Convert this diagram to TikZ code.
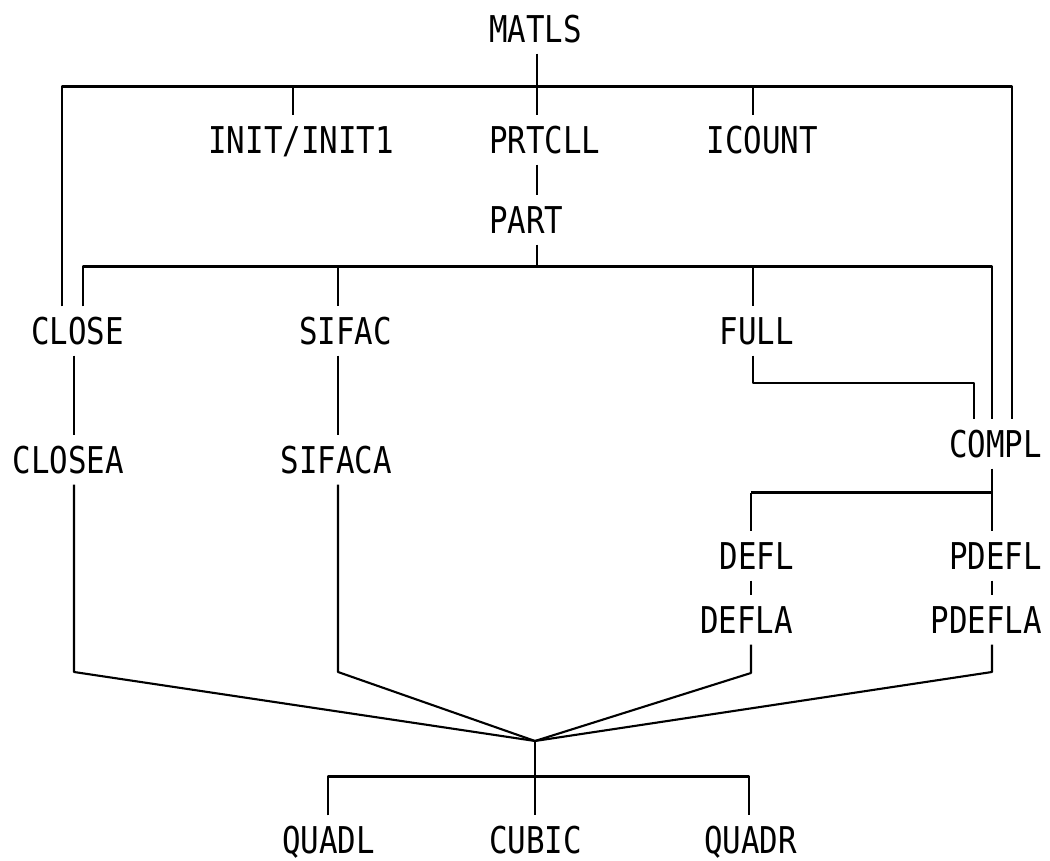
\documentclass[tikz,border=0pt]{standalone}
\usepackage{fontspec}
\newfontfamily\plotfont[FakeStretch=0.835]{DejaVu Sans Mono}
\begin{document}
\begin{tikzpicture}[x=0.01cm,y=-0.01cm,line width=0.6pt,line join=round,
	lbl/.style={font={\plotfont\fontsize{10.5pt}{12pt}\selectfont},inner sep=0pt,
		text height=0.27cm,text depth=0pt,outer ysep=0.11cm},
	rlbl/.style={lbl,anchor=east},
	llbl/.style={lbl,anchor=west},
	bus/.style={line width=0.85pt}]
	\useasboundingbox (0,0) rectangle (1050,861);
	\node[llbl] (matls)  at (488,29)   {MATLS};
	\node[rlbl] (init)   at (395,140)  {INIT/INIT1};
	\node[llbl] (prtcll) at (488,140)  {PRTCLL};
	\node[rlbl] (icount) at (819,140)  {ICOUNT};
	\node[llbl] (part)   at (488,220)  {PART};
	\node[rlbl] (close)  at (125,331)  {CLOSE};
	\node[rlbl] (sifac)  at (393,331)  {SIFAC};
	\node[rlbl] (full)   at (795,331)  {FULL};
	\node[rlbl] (closea) at (125,460)  {CLOSEA};
	\node[rlbl] (sifaca) at (393,460)  {SIFACA};
	\node[rlbl] (compl)  at (1043,444) {COMPL};
	\node[rlbl] (defl)   at (795,556)  {DEFL};
	\node[rlbl] (pdefl)  at (1043,556) {PDEFL};
	\node[rlbl] (defla)  at (794,620)  {DEFLA};
	\node[rlbl] (pdefla) at (1043,620) {PDEFLA};
	\node[rlbl] (quadl)  at (376,840)  {QUADL};
	\node[llbl] (cubic)  at (488,840)  {CUBIC};
	\node[rlbl] (quadr)  at (798,840)  {QUADR};
	\coordinate (t1) at (62,87);   \coordinate (t2) at (293,87);  \coordinate (t3) at (537,87);
	\coordinate (t4) at (753,87);  \coordinate (t5) at (1012,87);
	\coordinate (m1) at (83,267);  \coordinate (m2) at (338,267); \coordinate (m3) at (537,267);
	\coordinate (m4) at (753,267); \coordinate (m5) at (992,267);
	\coordinate (k1) at (74,672);  \coordinate (k2) at (338,672); \coordinate (k3) at (751,673);
	\coordinate (k4) at (992,672);
	\coordinate (fc) at (974,383);
	\coordinate (cc) at (992,493); \coordinate (dc) at (751,493);
	\coordinate (hub) at (535,741);
	\coordinate (q1) at (328,777); \coordinate (q2) at (749,777);
	\draw (matls.south -| t3) -- (t3) -- (prtcll.north -| t3);
	\draw[bus] (close.north -| t1) -- (t1) -- (t5) -- (compl.north -| t5);
	\draw (t2) -- (init.north -| t2);
	\draw (t4) -- (icount.north -| t4);
	\draw (prtcll.south -| t3) -- (part.north -| t3);
	\draw (part.south -| m3) -- (m3);
	\draw[bus] (close.north -| m1) -- (m1) -- (m5) -- (compl.north -| m5);
	\draw (m2) -- (sifac.north -| m2);
	\draw (m4) -- (full.north -| m4);
	\draw (close.south -| k1) -- (closea.north -| k1);
	\draw (sifac.south -| k2) -- (sifaca.north -| k2);
	\draw (full.south -| m4) |- (fc) -- (compl.north -| fc);
	\draw (compl.south -| cc) -- (pdefl.north -| cc);
	\draw[bus] (cc) -- (dc);
	\draw (dc) -- (defl.north -| dc);
	\draw (defl.south -| dc) -- (defla.north -| dc);
	\draw (pdefl.south -| cc) -- (pdefla.north -| cc);
	\draw (closea.south -| k1) -- (k1) -- (hub);
	\draw (sifaca.south -| k2) -- (k2) -- (hub);
	\draw (defla.south -| k3) -- (k3) -- (hub);
	\draw (pdefla.south -| k4) -- (k4) -- (hub);
	\draw (hub) -- (cubic.north -| hub);
	\draw[bus] (quadl.north -| q1) -- (q1) -- (q2) -- (quadr.north -| q2);
\end{tikzpicture}
\end{document}
